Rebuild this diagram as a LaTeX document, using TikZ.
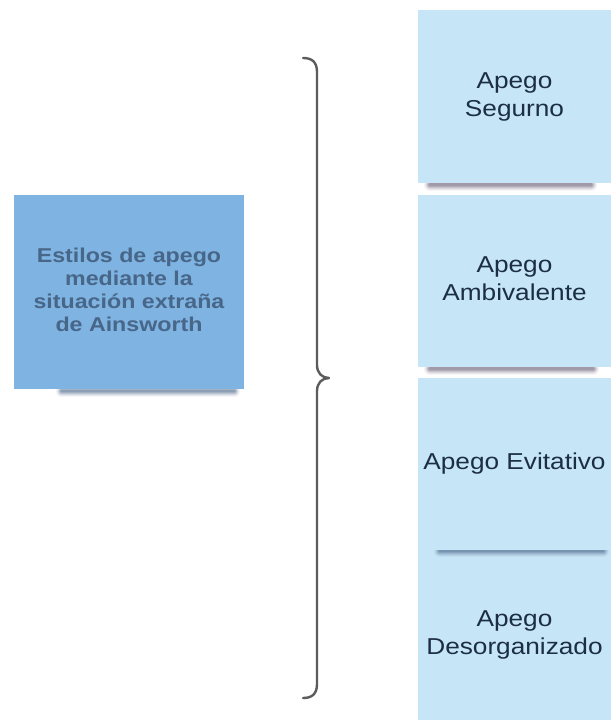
\documentclass[tikz,border=0pt]{standalone}
\usepackage{fontspec}
\usepackage{graphicx}
\setmainfont{Liberation Sans}
\usetikzlibrary{calc}

\definecolor{leftfill}{RGB}{126,179,226}
\definecolor{lefttext}{RGB}{72,102,136}
\definecolor{rightfill}{RGB}{198,229,246}
\definecolor{righttext}{RGB}{28,46,70}
\definecolor{bracecol}{RGB}{92,92,92}
\definecolor{shadowcol}{RGB}{112,100,125}
\definecolor{shadowblue}{RGB}{80,105,140}

\pgfdeclarelayer{bottom}
\pgfdeclarelayer{shadows}
\pgfsetlayers{bottom,shadows,main}

% horizontally widened multi-line label
\newcommand{\widelabel}[2]{\scalebox{#1}[1]{\begin{tabular}{@{}c@{}}#2\end{tabular}}}

\tikzset{
  mainbox/.style={rectangle, fill=leftfill, draw=none, inner sep=0pt,
    text=lefttext, font=\fontsize{20}{23}\selectfont\bfseries},
  stylebox/.style={rectangle, fill=rightfill, draw=none, inner sep=0pt,
    minimum width=193pt, text=righttext, font=\fontsize{23}{28}\selectfont},
  bracepath/.style={draw=bracecol, line width=2.4pt, line cap=round, line join=round},
}

% soft shadow strip hugging the lower edge of a box
\newcommand{\undershadow}[3]{%
  \foreach \w/\o in {12/0.06,10/0.09,8/0.13,6/0.17,4/0.22,2.5/0.25}
    \draw[line width=\w pt, draw=#1, opacity=\o, line cap=round] #2 -- #3;}

\begin{document}
\begin{tikzpicture}[x=1pt,y=-1pt]
\useasboundingbox (0,0) rectangle (611,720);
\begin{pgfonlayer}{bottom}
\fill[white] (0,0) rectangle (611,720);
\end{pgfonlayer}

% left summary box
\node[mainbox, minimum width=230pt, minimum height=194pt] (main) at (129,292)
  {\widelabel{1.16}{Estilos de apego\\mediante la\\situación extraña\\de Ainsworth}};

% the four attachment styles
\node[stylebox, minimum height=173pt] (seguro) at (514.5,96.5)
  {\widelabel{1.14}{Apego\\Segurno}};
\node[stylebox, minimum height=172pt] (ambiv) at (514.5,281)
  {\widelabel{1.14}{Apego\\Ambivalente}};
\node[stylebox, minimum height=172pt] (evit) at (514.5,464)
  {\widelabel{1.14}{Apego Evitativo}};
\begin{pgfonlayer}{bottom}
\node[stylebox, minimum height=170pt] (desorg) at (514.5,635)
  {\widelabel{1.14}{Apego\\Desorganizado}};
\end{pgfonlayer}

% shadows under the boxes
\begin{pgfonlayer}{shadows}
\undershadow{shadowblue}{($(main.south west)+(48,2)$)}{($(main.south east)+(-10,2)$)}
\undershadow{shadowcol}{($(seguro.south west)+(12,1.5)$)}{($(seguro.south east)+(-20,1.5)$)}
\undershadow{shadowcol}{($(ambiv.south west)+(12,1.5)$)}{($(ambiv.south east)+(-18,1.5)$)}
\undershadow{shadowblue}{($(evit.south west)+(22,1)$)}{($(evit.south east)+(-8,1)$)}
\end{pgfonlayer}

% curly brace grouping the styles
\coordinate (brtop) at (303,58);
\coordinate (brtip) at (329,378);
\coordinate (brbot) at (303,698);
\draw[bracepath] (brtop) .. controls (312,58) and (317,62) .. (317,72)
  -- (317,365) .. controls (317,373) and (322,378) .. (brtip)
  .. controls (322,378) and (317,383) .. (317,391)
  -- (317,684) .. controls (317,694) and (312,698) .. (brbot);
\end{tikzpicture}
\end{document}
